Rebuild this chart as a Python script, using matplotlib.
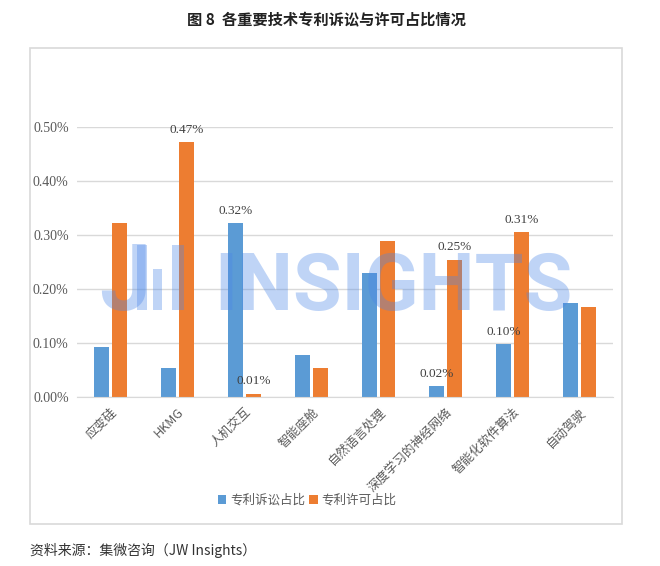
import matplotlib
matplotlib.use("Agg")
import matplotlib.pyplot as plt
from matplotlib.patches import Rectangle
from matplotlib.ticker import FuncFormatter
import numpy as np

categories = ["应变硅", "HKMG", "人机交互", "智能座舱", "自然语言处理", "深度学习的神经网络", "智能化软件算法", "自动驾驶"]
litigation = [0.093, 0.054, 0.322, 0.078, 0.229, 0.020, 0.098, 0.174]
licensing = [0.322, 0.472, 0.006, 0.054, 0.288, 0.254, 0.305, 0.167]
series_names = ["专利诉讼占比", "专利许可占比"]
lit_labels = {2: "0.32%", 5: "0.02%", 6: "0.10%"}
lic_labels = {1: "0.47%", 2: "0.01%", 5: "0.25%", 6: "0.31%"}
yticks = [0.0, 0.1, 0.2, 0.3, 0.4, 0.5]

CJK = ["Noto Sans CJK SC", "DejaVu Sans"]
SERIF = ["Liberation Serif", "Noto Sans CJK SC"]
plt.rcParams['font.family'] = CJK

W, H = 660, 566
fig = plt.figure(figsize=(W / 100, H / 100), dpi=100)

# outer frame
fig.add_artist(Rectangle((30 / W, 1 - 524 / H), 592 / W, 476 / H, transform=fig.transFigure,
                         fill=False, edgecolor="#d9d9d9", lw=1.2))

ax = fig.add_axes([77 / W, 1 - 397 / H, 536 / W, 270 / H])
x = np.arange(len(categories))
bw = 0.22
off = 0.135
b1 = ax.bar(x - off, litigation, bw, color="#5b9bd5", label=series_names[0], zorder=2)
b2 = ax.bar(x + off, licensing, bw, color="#ed7d31", label=series_names[1], zorder=2)

for i, t in lit_labels.items():
    ax.text(x[i] - off, litigation[i] + 0.012, t, ha="center", va="bottom",
            fontsize=9.5, color="#404040", family=SERIF, zorder=6)
for i, t in lic_labels.items():
    ax.text(x[i] + off, licensing[i] + 0.012, t, ha="center", va="bottom",
            fontsize=9.5, color="#404040", family=SERIF, zorder=6)

ax.set_xlim(-0.5, len(categories) - 0.5)
ax.set_ylim(0, 0.5)
ax.set_yticks(yticks)
ax.yaxis.set_major_formatter(FuncFormatter(lambda v, p: f"{v:.2f}%"))
ax.grid(axis="y", color="#d9d9d9", lw=1, zorder=0)
ax.set_axisbelow(True)
for s in ["top", "right", "left"]:
    ax.spines[s].set_visible(False)
ax.spines["bottom"].set_color("#d9d9d9")
ax.tick_params(axis="both", length=0, colors="#595959")
for lab in ax.get_yticklabels():
    lab.set_fontfamily(SERIF)
    lab.set_fontsize(10)
ax.tick_params(axis="y", pad=6)
ax.set_xticks(x)
ax.set_xticklabels(categories, rotation=45, ha="right", rotation_mode="anchor",
                   fontsize=9, color="#595959", family=["Noto Sans CJK SC", "Liberation Serif"])
ax.tick_params(axis="x", pad=6)

# watermark
wm_color = "#4a86e8"
wm_alpha = 0.35
fig.text(99 / W, 1 - 310 / H, "J", fontsize=66, fontweight="bold", family=["Roboto", "DejaVu Sans"],
         color=wm_color, alpha=wm_alpha, ha="left", va="baseline", zorder=10)
for (x0, x1, yt) in [(137, 147, 245), (153, 162, 269), (172, 184, 245)]:
    fig.add_artist(Rectangle((x0 / W, 1 - 310 / H), (x1 - x0) / W, (310 - yt) / H,
                             transform=fig.transFigure, color=wm_color, alpha=wm_alpha, lw=0, zorder=10))
fig.text(214 / W, 1 - 310 / H, "INSIGHTS", fontsize=57, fontweight="bold", family=["Roboto", "DejaVu Sans"],
         color=wm_color, alpha=wm_alpha, ha="left", va="baseline", zorder=10)

leg = ax.legend(loc="center", bbox_to_anchor=(307 / W, 1 - 500 / H), bbox_transform=fig.transFigure,
                ncol=2, frameon=False, fontsize=9, handlelength=0.7, handleheight=0.7,
                handletextpad=0.3, columnspacing=0.3, labelcolor="#595959")

fig.text(326 / W, 1 - 20 / H, "图 8  各重要技术专利诉讼与许可占比情况", ha="center", va="center",
         fontsize=11, fontweight="bold", color="#222222", family=CJK)
fig.text(30 / W, 1 - 550 / H, "资料来源：集微咨询（JW Insights）", ha="left", va="center",
         fontsize=10, style="italic", color="#333333", family=["Noto Sans CJK SC", "Liberation Serif"])

fig.savefig("out.png", dpi=100)
